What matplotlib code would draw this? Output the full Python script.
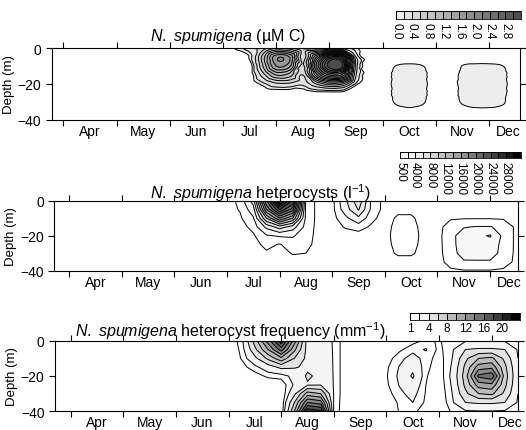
import numpy as np
import matplotlib
matplotlib.use('Agg')
import matplotlib.pyplot as plt
import matplotlib.tri as mtri
from matplotlib.colors import ListedColormap

plt.rcParams['font.family'] = 'Liberation Sans'
plt.rcParams['mathtext.fontset'] = 'custom'
plt.rcParams['mathtext.rm'] = 'Liberation Sans'
plt.rcParams['mathtext.it'] = 'Liberation Sans:italic'

# sampling grid: month (4 = 1 Apr) and depth (m)
MONTHS = [3.7, 7.0, 7.25, 7.5, 7.75, 8.0, 8.25, 8.5, 8.75, 9.0, 9.25, 9.5, 9.75,
          10.0, 10.25, 10.5, 10.75, 11.0, 11.25, 11.5, 11.75, 12.0, 12.25, 12.5, 12.6]
DEPTHS = [0, -5, -10, -15, -20, -25, -30, -35, -40]

MONTH_STARTS = [4, 5, 6, 7, 8, 9, 10, 11, 12]
MONTH_LABEL_POS = [4.5, 5.5, 6.5, 7.5, 8.5, 9.5, 10.5, 11.5, 12.36]
MONTH_NAMES = ['Apr', 'May', 'Jun', 'Jul', 'Aug', 'Sep', 'Oct', 'Nov', 'Dec']

# N. spumigena biomass (uM C), rows = DEPTHS, columns = MONTHS
BIOMASS = [
    [0, 0, 0.12, 0.3, 0.5, 0.8, 0.7, 0.35, 0.3, 0.35, 0.3, 0.12, 0, 0, 0, 0, 0, 0, 0, 0, 0, 0, 0, 0, 0],
    [0, 0, 0, 0.12, 0.9, 1.75, 1.6, 0.5, 1.6, 2.6, 2.5, 0.4, 0, 0, 0, 0, 0, 0, 0, 0, 0, 0, 0, 0, 0],
    [0, 0, 0, 0, 0.8, 1.6, 1.45, 0.55, 2.0, 3.1, 3.0, 0.5, 0, 0, 0.105, 0.13, 0.105, 0, 0, 0.105, 0.13, 0.13, 0.105, 0, 0],
    [0, 0, 0, 0, 0.5, 1.0, 0.9, 0.4, 1.5, 2.2, 2.1, 0.4, 0, 0, 0.14, 0.15, 0.14, 0, 0, 0.14, 0.15, 0.15, 0.14, 0, 0],
    [0, 0, 0, 0, 0.15, 0.35, 0.35, 0.25, 0.6, 0.9, 0.8, 0.15, 0, 0, 0.15, 0.15, 0.15, 0, 0, 0.15, 0.15, 0.15, 0.15, 0, 0],
    [0, 0, 0, 0, 0, 0, 0, 0, 0.05, 0.05, 0.05, 0, 0, 0, 0.14, 0.15, 0.14, 0, 0, 0.14, 0.15, 0.15, 0.14, 0, 0],
    [0, 0, 0, 0, 0, 0, 0, 0, 0, 0, 0, 0, 0, 0, 0.12, 0.15, 0.12, 0, 0, 0.12, 0.15, 0.15, 0.12, 0, 0],
    [0, 0, 0, 0, 0, 0, 0, 0, 0, 0, 0, 0, 0, 0, 0.05, 0.07, 0.05, 0, 0, 0.05, 0.07, 0.07, 0.05, 0, 0],
    [0, 0, 0, 0, 0, 0, 0, 0, 0, 0, 0, 0, 0, 0, 0, 0, 0, 0, 0, 0, 0, 0, 0, 0, 0],
]

# heterocysts (l-1)
HETEROCYSTS = [
    [0, 0, 800, 5000, 20000, 31000, 24000, 1500, 0, 0, 3500, 7500, 1500, 0, 0, 0, 0, 0, 0, 0, 0, 0, 0, 0, 0],
    [0, 0, 600, 3000, 16000, 24000, 19000, 1500, 0, 0, 3000, 6200, 1500, 0, 200, 200, 0, 0, 0, 0, 0, 0, 0, 0, 0],
    [0, 0, 300, 1800, 10000, 16000, 12000, 1500, 0, 0, 1500, 3500, 800, 0, 700, 700, 0, 0, 350, 400, 400, 400, 350, 100, 100],
    [0, 0, 0, 900, 4500, 7000, 5000, 1300, 0, 0, 600, 1000, 300, 0, 1000, 1000, 0, 0, 1200, 1900, 2100, 2100, 1500, 200, 200],
    [0, 0, 0, 300, 1800, 2200, 2200, 1100, 0, 0, 0, 0, 0, 0, 1200, 1200, 0, 0, 1500, 2800, 3500, 4200, 1500, 200, 200],
    [0, 0, 0, 0, 900, 400, 1200, 900, 0, 0, 0, 0, 0, 0, 1000, 1000, 0, 0, 1400, 2900, 3000, 3000, 1500, 200, 200],
    [0, 0, 0, 0, 300, 0, 600, 500, 0, 0, 0, 0, 0, 0, 700, 700, 0, 0, 1300, 2700, 2800, 2800, 1400, 200, 200],
    [0, 0, 0, 0, 0, 0, 0, 0, 0, 0, 0, 0, 0, 0, 0, 0, 0, 0, 1000, 1800, 1800, 1800, 1100, 200, 200],
    [0, 0, 0, 0, 0, 0, 0, 0, 0, 0, 0, 0, 0, 0, 0, 0, 0, 0, 300, 400, 400, 400, 300, 100, 100],
]

# heterocyst frequency (mm-1)
FREQUENCY = [
    [0, 0, 1.6, 7.0, 13.0, 19.5, 11.0, 3.0, 2.6, 1.9, 0, 0, 0, 0, 0.3, 0.6, 1.2, 0.9, 1.5, 1.8, 1.9, 1.9, 1.8, 1.2, 1.2],
    [0, 0, 1.3, 5.5, 10.0, 15.0, 8.5, 3.2, 2.8, 1.9, 0, 0, 0, 0, 0.8, 1.6, 2.1, 0.7, 1.8, 4.0, 4.3, 4.3, 4.0, 1.8, 1.8],
    [0, 0, 1.1, 3.5, 6.5, 9.5, 6.0, 3.4, 3.0, 1.9, 0, 0, 0, 0.5, 1.6, 2.6, 1.5, 0.5, 2.0, 5.5, 8.0, 8.5, 5.5, 2.0, 2.0],
    [0, 0, 0.6, 1.6, 3.0, 4.5, 4.2, 3.6, 3.2, 1.9, 0, 0, 0, 0.8, 2.1, 3.5, 1.3, 0.4, 2.2, 6.5, 11.0, 11.5, 6.5, 2.1, 2.1],
    [0, 0, 0, 0.5, 1.25, 1.4, 2.5, 4.3, 3.5, 1.9, 0, 0, 0, 0.9, 2.3, 4.3, 1.1, 0.3, 2.4, 7.0, 14.5, 15.5, 7.0, 2.2, 2.2],
    [0, 0, 0, 0, 0, 0.3, 2.2, 3.8, 3.9, 1.9, 0, 0, 0, 0.8, 2.1, 3.2, 1.0, 0.2, 2.2, 6.5, 11.0, 11.5, 6.5, 2.1, 2.1],
    [0, 0, 0, 0, 0, 0, 3.5, 9.0, 8.0, 1.9, 0, 0, 0, 0.5, 1.7, 2.5, 0.9, 0.1, 2.0, 5.5, 8.0, 8.5, 5.5, 2.0, 2.0],
    [0, 0, 0, 0, 0, 0, 6.0, 14.0, 13.0, 1.8, 0, 0, 0, 0.2, 1.2, 2.0, 0.8, 0, 1.8, 4.0, 4.3, 4.3, 4.0, 1.8, 1.8],
    [0, 0, 0, 0, 0, 0, 8.0, 19.5, 18.5, 1.7, 0, 0, 0, 0, 1.1, 1.2, 0.6, 0, 1.2, 1.8, 1.9, 1.9, 1.8, 1.2, 1.2],
]

BIOMASS_LEVELS = [0.1, 0.2, 0.4, 0.6, 0.8, 1.0, 1.2, 1.4, 1.6, 1.8, 2.0, 2.2, 2.4, 2.6, 2.8, 3.0, 3.2]
BIOMASS_TICKS = ['0.0', '0.4', '0.8', '1.2', '1.6', '2.0', '2.4', '2.8']
HETEROCYST_LEVELS = [500, 2000, 4000, 6000, 8000, 10000, 12000, 14000, 16000, 18000,
                     20000, 22000, 24000, 26000, 28000, 30000, 32000]
HETEROCYST_TICKS = ['500', '4000', '8000', '12000', '16000', '20000', '24000', '28000']
FREQUENCY_LEVELS = [1, 2, 4, 6, 8, 10, 12, 14, 16, 18, 20, 22, 24]
FREQUENCY_TICKS = ['1', '4', '8', '12', '16', '20']


def greys(n, light, dark, gamma=1.0):
    t = np.linspace(0, 1, n) ** gamma
    return [str(g) for g in light - (light - dark) * t]


def smooth_field(grid, top):
    # cubic refinement of the sampled grid (x stretched so cells are ~square)
    X, Y = np.meshgrid(MONTHS, DEPTHS)
    tri = mtri.Triangulation(X.ravel() * 20, Y.ravel())
    z = np.asarray(grid, float).ravel()
    interp = mtri.CubicTriInterpolator(tri, z, kind='geom')
    fine, zf = mtri.UniformTriRefiner(tri).refine_field(z, triinterpolator=interp, subdiv=3)
    fine = mtri.Triangulation(fine.x / 20, fine.y, fine.triangles)
    return fine, np.clip(zf, -1, top)


def setup_axes(ax, xlim, title, title_x, title_y):
    ax.set_xlim(*xlim)
    ax.set_ylim(-40, 0)
    ax.set_yticks([0, -20, -40])
    ax.set_xticks(MONTH_STARTS)
    ax.set_xticklabels([])
    ax.set_xticks(MONTH_LABEL_POS, minor=True)
    ax.set_xticklabels(MONTH_NAMES, minor=True, fontsize=10)
    ax.tick_params(which='major', direction='out', length=4, width=0.8,
                   top=True, right=True, labelsize=10)
    ax.tick_params(which='minor', length=0, pad=3)
    ax.set_ylabel('Depth (m)', fontsize=9.5, labelpad=2)
    for s in ax.spines.values():
        s.set_linewidth(0.8)
    ax.text(title_x, title_y, title, transform=ax.transAxes, ha='center',
            va='baseline', fontsize=11.5)


def draw_scale(cax, colors, labels, rotation):
    n = len(colors)
    cax.pcolormesh(np.arange(n + 1), [0, 1], [np.arange(n)],
                   cmap=ListedColormap(colors), edgecolors='k', linewidth=0.6)
    cax.set_xlim(0, n)
    cax.set_xticks(np.arange(0, 2 * len(labels), 2))
    cax.set_xticklabels(labels, rotation=rotation, fontsize=8.5)
    cax.tick_params(length=0, pad=2)
    cax.set_yticks([])
    for s in cax.spines.values():
        s.set_linewidth(0.6)


fig = plt.figure(figsize=(5.26, 4.31), dpi=100)

ax1 = fig.add_axes([0.0983, 0.720, 0.8903, 0.1657])
ax2 = fig.add_axes([0.1032, 0.3696, 0.8816, 0.1624])
ax3 = fig.add_axes([0.1046, 0.0434, 0.8802, 0.1638])

c1 = greys(16, 0.93, 0.30)
c2 = greys(16, 1.0, 0.0, 1.3)
c3 = greys(12, 1.0, 0.0, 1.3)

# biomass: smooth contours
fine, zf = smooth_field(BIOMASS, 3.19)
ax1.tricontourf(fine, zf, levels=BIOMASS_LEVELS, colors=c1)
ax1.tricontour(fine, zf, levels=BIOMASS_LEVELS, colors='k', linewidths=0.7)

# heterocysts and frequency: straight contouring of the grid
ax2.contourf(MONTHS, DEPTHS, HETEROCYSTS, levels=HETEROCYST_LEVELS, colors=c2)
ax2.contour(MONTHS, DEPTHS, HETEROCYSTS, levels=HETEROCYST_LEVELS, colors='k', linewidths=0.7)
ax3.contourf(MONTHS, DEPTHS, FREQUENCY, levels=FREQUENCY_LEVELS, colors=c3)
ax3.contour(MONTHS, DEPTHS, FREQUENCY, levels=FREQUENCY_LEVELS, colors='k', linewidths=0.7)

setup_axes(ax1, (3.78, 12.58), r'$\mathit{N.\ spumigena}$ (µM C)', 0.376, 1.12)
setup_axes(ax2, (3.72, 12.53), r'$\mathit{N.\ spumigena}$ heterocysts (l$^{-1}$)', 0.444, 1.04)
setup_axes(ax3, (3.70, 12.50),
           r'$\mathit{N.\ spumigena}$ heterocyst frequency (mm$^{-1}$)', 0.379, 1.07)

cb1 = fig.add_axes([0.7530, 0.9536, 0.2376, 0.0186])
cb2 = fig.add_axes([0.7605, 0.6304, 0.2300, 0.0153])
cb3 = fig.add_axes([0.7800, 0.2559, 0.2091, 0.0155])
draw_scale(cb1, c1, BIOMASS_TICKS, -90)
draw_scale(cb2, c2, HETEROCYST_TICKS, -90)
draw_scale(cb3, c3, FREQUENCY_TICKS, 0)

fig.savefig('out.png', dpi=100)
